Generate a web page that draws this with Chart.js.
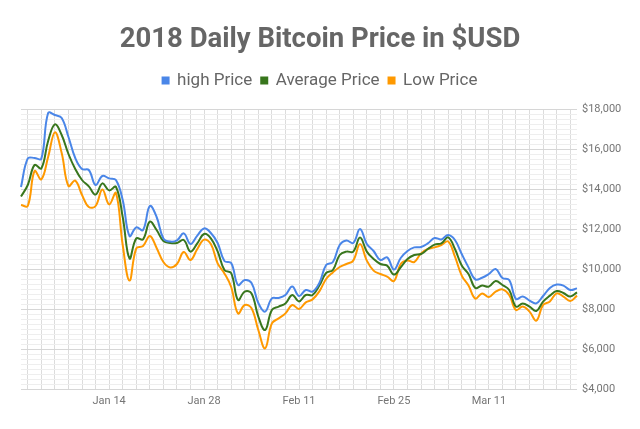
<!DOCTYPE html>
<html>
<head>
<meta charset="utf-8">
<script src="https://cdn.jsdelivr.net/npm/chart.js@4.4.1/dist/chart.umd.min.js"></script>
<style>
  html, body { margin: 0; padding: 0; background: #ffffff; }
  #wrap { width: 640px; height: 429px; position: relative; }
</style>
</head>
<body>
<div id="wrap"><canvas id="c" width="640" height="429"></canvas></div>
<script>
const categories = [
  "Jan 1","Jan 2","Jan 3","Jan 4","Jan 5","Jan 6","Jan 7","Jan 8","Jan 9","Jan 10",
  "Jan 11","Jan 12","Jan 13","Jan 14","Jan 15","Jan 16","Jan 17","Jan 18","Jan 19","Jan 20",
  "Jan 21","Jan 22","Jan 23","Jan 24","Jan 25","Jan 26","Jan 27","Jan 28","Jan 29","Jan 30",
  "Jan 31","Feb 1","Feb 2","Feb 3","Feb 4","Feb 5","Feb 6","Feb 7","Feb 8","Feb 9",
  "Feb 10","Feb 11","Feb 12","Feb 13","Feb 14","Feb 15","Feb 16","Feb 17","Feb 18","Feb 19",
  "Feb 20","Feb 21","Feb 22","Feb 23","Feb 24","Feb 25","Feb 26","Feb 27","Feb 28","Mar 1",
  "Mar 2","Mar 3","Mar 4","Mar 5","Mar 6","Mar 7","Mar 8","Mar 9","Mar 10","Mar 11",
  "Mar 12","Mar 13","Mar 14","Mar 15","Mar 16","Mar 17","Mar 18","Mar 19","Mar 20","Mar 21",
  "Mar 22","Mar 23","Mar 24"
];

const highPrice = [
  14100,15530,15550,15520,17800,17700,17550,16600,15550,15000,
  14950,14200,14650,14530,14450,13450,11650,12080,11950,13150,
  12600,11530,11370,11430,11780,11250,11670,12030,11800,11300,
  10400,10300,9200,9450,9300,8300,7870,8530,8550,8700,
  9120,8650,8950,8870,9300,10200,10350,11200,11430,11300,
  12000,11250,10900,10450,10580,9970,10550,10900,11080,11100,
  11280,11550,11480,11700,11450,10750,10080,9480,9560,9750,
  10000,9550,9450,8500,8630,8420,8280,8650,9050,9220,
  9170,8950,9030
];

const averagePrice = [
  13620,14200,15200,15030,16400,17230,16700,15750,15000,14450,
  14130,13720,14280,13930,14110,12600,10530,11530,11480,12370,
  11950,11400,11300,11300,11450,10870,11280,11750,11530,10880,
  9950,9790,8450,8870,8780,7620,6950,7950,8120,8280,
  8700,8380,8700,8700,9170,9800,9950,10700,10870,10870,
  11570,10870,10500,10250,10170,9720,10080,10500,10700,10750,
  11000,11220,11280,11580,11000,10170,9750,9050,9170,9120,
  9400,9200,8950,8120,8280,8120,7900,8370,8670,8900,
  8800,8620,8830
];

const lowPrice = [
  13200,13150,14900,14480,15600,16830,15800,14150,14420,13700,
  13100,13150,13980,13230,13800,11200,9420,11030,11150,11650,
  11050,10350,10080,10250,10850,10450,11000,11470,11250,10280,
  9780,9100,7780,8200,8040,6950,6030,7280,7530,7780,
  8200,8000,8330,8480,8880,9500,9830,10100,10250,10420,
  11250,10420,9920,9750,9620,9400,10250,10420,10350,10780,
  11000,11080,11200,11380,10620,9670,9170,8520,8780,8600,
  8870,8980,8700,7950,8120,7870,7420,8200,8380,8780,
  8620,8400,8670
];

const xTickLabels = ["Jan 14","Jan 28","Feb 11","Feb 25","Mar 11"];
const yTickLabels = [4000,6000,8000,10000,12000,14000,16000,18000];

const FONT = "Roboto, 'Noto Sans', Arial, sans-serif";

const legendSpacing = {
  id: 'legendSpacing',
  beforeInit(chart) {
    const origFit = chart.legend.fit;
    chart.legend.fit = function () {
      origFit.bind(chart.legend)();
      this.height = 46;
    };
  }
};

new Chart(document.getElementById('c'), {
  type: 'line',
  data: {
    labels: categories,
    datasets: [
      { label: 'high Price', data: highPrice, yAxisID: 'y', borderColor: '#4a86e8', backgroundColor: '#4a86e8',
        borderWidth: 2, pointRadius: 0, pointHoverRadius: 0, tension: 0.4, fill: false },
      { label: 'Average Price', data: averagePrice, yAxisID: 'y', borderColor: '#38761d', backgroundColor: '#38761d',
        borderWidth: 2, pointRadius: 0, pointHoverRadius: 0, tension: 0.4, fill: false },
      { label: 'Low Price', data: lowPrice, yAxisID: 'y', borderColor: '#ff9900', backgroundColor: '#ff9900',
        borderWidth: 2, pointRadius: 0, pointHoverRadius: 0, tension: 0.4, fill: false }
    ]
  },
  options: {
    responsive: false,
    animation: false,
    devicePixelRatio: 1,
    layout: { padding: 0 },
    plugins: {
      tooltip: { enabled: false },
      title: {
        display: true,
        text: '2018 Daily Bitcoin Price in $USD',
        color: '#666666',
        font: { family: FONT, size: 27.5, weight: 'bold' },
        padding: { top: 24, bottom: 6 }
      },
      legend: {
        display: true,
        position: 'top',
        labels: {
          color: '#666666',
          font: { family: FONT, size: 17 },
          boxWidth: 6,
          boxHeight: 6,
          padding: 9
        }
      }
    },
    scales: {
      x: {
        type: 'category',
        offset: false,
        border: { display: false },
        grid: {
          drawTicks: false,
          color: (ctx) => (ctx.index % 2 === 1 ? '#dcdcdc' : 'rgba(0,0,0,0)'),
          lineWidth: 1
        },
        ticks: {
          autoSkip: false,
          maxRotation: 0,
          minRotation: 0,
          padding: 6,
          color: '#757575',
          font: { family: FONT, size: 11 },
          callback: function (value, index) {
            const lab = categories[index];
            return xTickLabels.includes(lab) ? lab : '';
          }
        },
        afterFit(axis) { axis.height = 40; }
      },
      y: {
        position: 'right',
        min: 4000,
        max: 18000,
        border: { display: false },
        grid: {
          drawTicks: false,
          color: (ctx) => {
            const v = ctx.tick ? ctx.tick.value : 0;
            return yTickLabels.includes(v) ? '#d6d6d6' : '#eeeeee';
          },
          lineWidth: 1
        },
        ticks: {
          stepSize: 250,
          autoSkip: false,
          padding: 5,
          color: '#757575',
          font: { family: FONT, size: 11 },
          callback: function (value) {
            return yTickLabels.includes(value) ? '$' + value.toLocaleString('en-US') : '';
          }
        },
        afterFit(axis) { axis.width = 63; }
      },
      leftSpacer: {
        position: 'left',
        display: true,
        border: { display: false },
        grid: { display: false, drawOnChartArea: false, drawTicks: false },
        ticks: { display: false },
        afterFit(axis) { axis.width = 21; }
      }
    }
  },
  plugins: [legendSpacing]
});
</script>
</body>
</html>
